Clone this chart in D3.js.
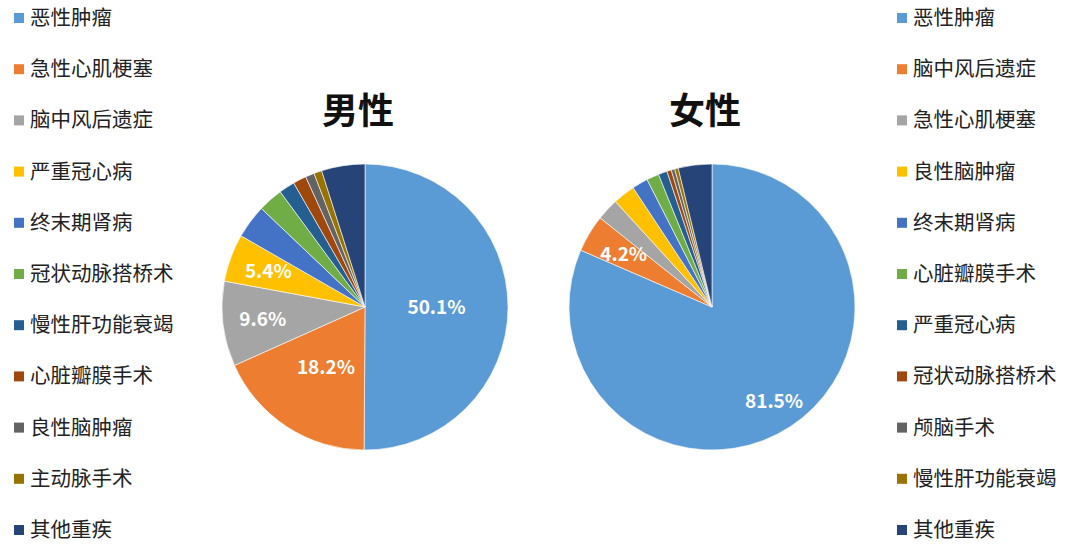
<!DOCTYPE html>
<html>
<head>
<meta charset="utf-8" />
<style>
  body { margin: 0; background: #fff; }
  text { font-family: "Noto Sans CJK SC", "Noto Sans", sans-serif; }
</style>
</head>
<body>
<svg id="chart" width="1080" height="556"></svg>
<script src="https://cdn.jsdelivr.net/npm/d3@7"></script>
<script>
  var colors = ['#5B9BD5', '#ED7D31', '#A5A5A5', '#FFC000', '#4472C4', '#70AD47',
                '#255E91', '#9E480E', '#636363', '#997300', '#264478']

  var maleNames = ['恶性肿瘤', '急性心肌梗塞', '脑中风后遗症', '严重冠心病', '终末期肾病',
                   '冠状动脉搭桥术', '慢性肝功能衰竭', '心脏瓣膜手术', '良性脑肿瘤', '主动脉手术', '其他重疾']
  var maleValues = [50.1, 18.2, 9.6, 5.4, 3.8, 2.8, 1.8, 1.5, 1.0, 0.9, 4.9]

  var femaleNames = ['恶性肿瘤', '脑中风后遗症', '急性心肌梗塞', '良性脑肿瘤', '终末期肾病',
                     '心脏瓣膜手术', '严重冠心病', '冠状动脉搭桥术', '颅脑手术', '慢性肝功能衰竭', '其他重疾']
  var femaleValues = [81.5, 4.2, 2.5, 2.5, 1.8, 1.4, 1.0, 0.5, 0.4, 0.4, 3.8]

  var svg = d3.select('#chart')

  function legend(names, x) {
    var g = svg.append('g')
    names.forEach(function (n, i) {
      var y = 18 + i * 51.2
      g.append('rect').attr('x', x).attr('y', y - 5).attr('width', 10).attr('height', 10)
        .attr('fill', colors[i])
      g.append('text').attr('x', x + 16).attr('y', y + 7).attr('font-size', 20.5)
        .attr('fill', '#222').text(n)
    })
  }

  function pie(values, cx, cy, title, labelMin) {
    var r = 143
    var arcs = d3.pie().sort(null)(values)
    var arc = d3.arc().innerRadius(0).outerRadius(r)
    // labels of mid-sized slices sit nearer the centre, others further out
    function labelPos(d) {
      var k = (d.data > 15 && d.data < 60) ? 0.5 : (d.data > 60 ? 0.79 : 0.72)
      return d3.arc().innerRadius(r * k).outerRadius(r * k).centroid(d)
    }
    var g = svg.append('g').attr('transform', 'translate(' + cx + ',' + cy + ')')
    g.selectAll('path').data(arcs).enter().append('path')
      .attr('d', arc)
      .attr('fill', function (d, i) { return colors[i] })
      .attr('stroke', '#fff').attr('stroke-width', 0.6)
    g.selectAll('text.lbl').data(arcs.filter(function (d) { return d.data >= labelMin })).enter()
      .append('text').attr('class', 'lbl')
      .attr('transform', function (d) { return 'translate(' + labelPos(d) + ')' })
      .attr('text-anchor', 'middle').attr('dy', '0.35em')
      .attr('font-size', 19).attr('font-weight', 'bold').attr('fill', '#fff')
      .text(function (d) { return d.data.toFixed(1) + '%' })
    svg.append('text').attr('x', cx - 7).attr('y', 124).attr('text-anchor', 'middle')
      .attr('font-size', 36).attr('font-weight', 'bold').attr('fill', '#111').text(title)
  }

  legend(maleNames, 14)
  legend(femaleNames, 897)
  pie(maleValues, 365, 307, '男性', 5)
  pie(femaleValues, 712, 307, '女性', 4)
</script>
</body>
</html>
